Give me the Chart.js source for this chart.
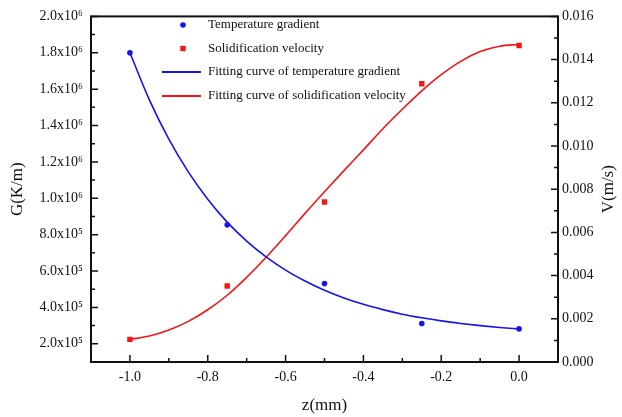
<!DOCTYPE html>
<html><head><meta charset="utf-8">
<script src="https://cdn.jsdelivr.net/npm/chart.js@4/dist/chart.umd.min.js"></script>
<style>html,body{margin:0;padding:0;background:#fff;}#wrap{width:622px;height:417px;position:relative;}</style>
</head><body><div id="wrap"><canvas id="c" width="622" height="417"></canvas></div>
<script>
// ---- data ----
const zPoints = [-1.0, -0.75, -0.5, -0.25, 0.0];
const gradientValues = [1.80e6, 0.854e6, 0.531e6, 0.312e6, 0.282e6];
const velocityValues = [0.00105, 0.00352, 0.00741, 0.01288, 0.01465];
const zFit = [-1.00,-0.95,-0.90,-0.85,-0.80,-0.75,-0.70,-0.65,-0.60,-0.55,-0.50,-0.45,-0.40,-0.35,-0.30,-0.25,-0.20,-0.15,-0.10,-0.05,0.00];
const gradientFit = [1.800e6,1.541e6,1.325e6,1.145e6,0.995e6,0.869e6,0.765e6,0.678e6,0.605e6,0.545e6,0.494e6,0.452e6,0.417e6,0.388e6,0.363e6,0.343e6,0.326e6,0.312e6,0.300e6,0.290e6,0.282e6];
const velocityFit = [0.00105,0.00120,0.00148,0.00188,0.00242,0.00309,0.00392,0.00485,0.00585,0.00688,0.00788,0.00886,0.00982,0.01080,0.01170,0.01255,0.01330,0.01392,0.01437,0.01462,0.01470];
const xTicks = [-1.0,-0.8,-0.6,-0.4,-0.2,0.0];
const xMinorTicks = [-0.9,-0.7,-0.5,-0.3,-0.1];
const gTicks = [2e5,4e5,6e5,8e5,1e6,1.2e6,1.4e6,1.6e6,1.8e6,2e6];
const gMinorTicks = [1e5,3e5,5e5,7e5,9e5,1.1e6,1.3e6,1.5e6,1.7e6,1.9e6];
const vTicks = [0,0.002,0.004,0.006,0.008,0.010,0.012,0.014,0.016];
const vMinorTicks = [0.001,0.003,0.005,0.007,0.009,0.011,0.013,0.015];
const seriesLabels = ['Temperature gradient','Solidification velocity','Fitting curve of temperature gradient','Fitting curve of solidification velocity'];
const axisTitles = {x:'z(mm)', g:'G(K/m)', v:'V(m/s)'};

const BLUE = 'rgb(20,20,240)', RED = 'rgb(245,20,20)';
const FONT = "'Liberation Serif','Times New Roman',serif";
const sup = {'0':'⁰','1':'¹','2':'²','3':'³','4':'⁴','5':'⁵','6':'⁶','7':'⁷','8':'⁸','9':'⁹'};
function gLabel(v){
  const e = Math.floor(Math.log10(v) + 1e-9);
  const m = (v / Math.pow(10, e)).toFixed(1);
  return m + 'x10' + String(e).split('').map(c => sup[c]).join('');
}
function pts(xs, ys){ return xs.map((x,i)=>({x:x, y:ys[i]})); }

const framePlugin = {
  id:'frame',
  afterDraw(chart){
    const {ctx, chartArea:a, scales} = chart;
    ctx.save();
    ctx.strokeStyle = '#111';
    ctx.lineWidth = 2;
    ctx.strokeRect(a.left, a.top, a.right - a.left, a.bottom - a.top);
    ctx.lineWidth = 1.5;
    ctx.beginPath();
    const tk = (vals, len, fn) => vals.forEach(v => fn(v, len));
    tk(xTicks, 7, (v,l)=>{const p=scales.x.getPixelForValue(v); ctx.moveTo(p,a.bottom); ctx.lineTo(p,a.bottom-l);});
    tk(xMinorTicks, 4, (v,l)=>{const p=scales.x.getPixelForValue(v); ctx.moveTo(p,a.bottom); ctx.lineTo(p,a.bottom-l);});
    tk(gTicks, 7, (v,l)=>{const p=scales.y.getPixelForValue(v); ctx.moveTo(a.left,p); ctx.lineTo(a.left+l,p);});
    tk(gMinorTicks, 4, (v,l)=>{const p=scales.y.getPixelForValue(v); ctx.moveTo(a.left,p); ctx.lineTo(a.left+l,p);});
    tk(vTicks, 7, (v,l)=>{const p=scales.y1.getPixelForValue(v); ctx.moveTo(a.right,p); ctx.lineTo(a.right-l,p);});
    tk(vMinorTicks, 4, (v,l)=>{const p=scales.y1.getPixelForValue(v); ctx.moveTo(a.right,p); ctx.lineTo(a.right-l,p);});
    ctx.stroke();

    // right axis title (reads bottom to top)
    ctx.fillStyle = '#111';
    ctx.font = "17px " + FONT;
    ctx.textAlign = 'center';
    ctx.textBaseline = 'middle';
    ctx.translate(609, (a.top + a.bottom) / 2);
    ctx.rotate(-Math.PI / 2);
    ctx.fillText(axisTitles.v, 0, 0);
    ctx.restore();

    // legend
    ctx.save();
    const ds = chart.data.datasets;
    const rows = [25, 48.5, 72, 96];
    ctx.font = "13px " + FONT;
    ctx.fillStyle = '#111';
    ctx.textAlign = 'left';
    ctx.textBaseline = 'middle';
    ds.forEach((d, i) => {
      const y = rows[i];
      if (i === 0) {
        ctx.fillStyle = d.backgroundColor;
        ctx.beginPath(); ctx.arc(183, y, 2.8, 0, Math.PI*2); ctx.fill();
      } else if (i === 1) {
        ctx.fillStyle = d.backgroundColor;
        ctx.fillRect(180.3, y - 2.7, 5.4, 5.4);
      } else {
        ctx.strokeStyle = d.borderColor; ctx.lineWidth = 1.8;
        ctx.beginPath(); ctx.moveTo(162, y); ctx.lineTo(201, y); ctx.stroke();
      }
      ctx.fillStyle = '#111';
      ctx.fillText(d.label, 208, y);
    });
    ctx.restore();
  }
};

new Chart(document.getElementById('c'), {
  type: 'scatter',
  data: {
    datasets: [
      {label: seriesLabels[0], data: pts(zPoints, gradientValues), yAxisID:'y', showLine:false,
       pointStyle:'circle', pointRadius:2.8, backgroundColor:BLUE, borderColor:BLUE, borderWidth:0, order:0},
      {label: seriesLabels[1], data: pts(zPoints, velocityValues), yAxisID:'y1', showLine:false,
       pointStyle:'rect', pointRadius:3.8, backgroundColor:RED, borderColor:RED, borderWidth:0, order:1},
      {label: seriesLabels[2], data: pts(zFit, gradientFit), yAxisID:'y', showLine:true, pointRadius:0,
       borderColor:BLUE, backgroundColor:BLUE, borderWidth:1.6, cubicInterpolationMode:'monotone', fill:false, order:2},
      {label: seriesLabels[3], data: pts(zFit, velocityFit), yAxisID:'y1', showLine:true, pointRadius:0,
       borderColor:RED, backgroundColor:RED, borderWidth:1.6, cubicInterpolationMode:'monotone', fill:false, order:3}
    ]
  },
  options: {
    responsive:false, animation:false,
    layout:{padding:{top:15,left:0,right:0,bottom:0}},
    plugins:{legend:{display:false}, tooltip:{enabled:false}},
    scales:{
      x:{type:'linear', position:'bottom', min:-1.1, max:0.1,
         afterBuildTicks:s=>{s.ticks = xTicks.map(v=>({value:v}));},
         afterFit:s=>{s.height = 55;},
         grid:{display:false, drawTicks:false}, border:{display:false},
         ticks:{callback:v=>Number(v).toFixed(1), font:{family:FONT,size:14}, color:'#111', padding:7, maxRotation:0, autoSkip:false},
         title:{display:true, text:axisTitles.x, font:{family:FONT,size:17}, color:'#111', padding:{top:0,bottom:1}}},
      y:{type:'linear', position:'left', min:1e5, max:2e6,
         afterBuildTicks:s=>{s.ticks = gTicks.map(v=>({value:v}));},
         afterFit:s=>{s.width = 91;},
         grid:{display:false, drawTicks:false}, border:{display:false},
         ticks:{callback:v=>gLabel(v), font:{family:FONT,size:14}, color:'#111', padding:8, autoSkip:false},
         title:{display:true, text:axisTitles.g, font:{family:FONT,size:17}, color:'#111', padding:{top:7,bottom:0}}},
      y1:{type:'linear', position:'right', min:0, max:0.016,
         afterBuildTicks:s=>{s.ticks = vTicks.map(v=>({value:v}));},
         afterFit:s=>{s.width = 64;},
         grid:{display:false, drawTicks:false}, border:{display:false},
         ticks:{callback:v=>Number(v).toFixed(3), font:{family:FONT,size:14}, color:'#111', padding:4, autoSkip:false},
         title:{display:false}}
    }
  },
  plugins:[framePlugin]
});
</script></body></html>
